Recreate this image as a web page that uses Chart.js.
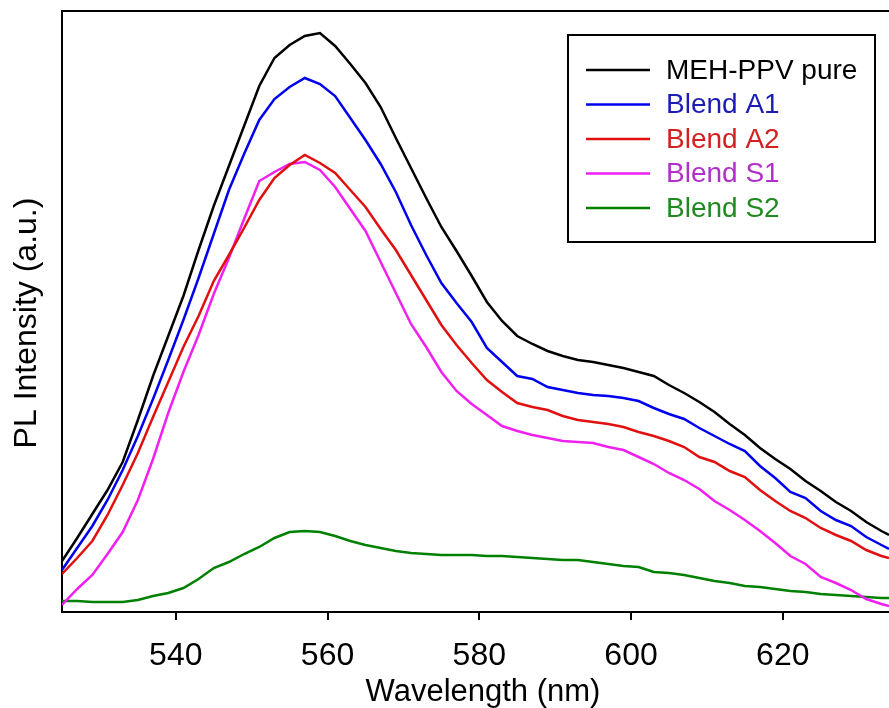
<!DOCTYPE html>
<html>
<head>
<meta charset="utf-8">
<script src="https://cdn.jsdelivr.net/npm/chart.js@4.4.1/dist/chart.umd.min.js"></script>
<style>
    body { margin: 0; background: #fff; }
    #wrap { width: 889px; height: 708px; }
</style>
</head>
<body>
<div id="wrap"><canvas id="plChart" width="889" height="708"></canvas></div>
<script>
    // PL spectra (arbitrary units)
    const wavelengths = [525, 527, 529, 531, 533, 535, 537, 539, 541, 543,
                         545, 547, 549, 551, 553, 555, 557, 559, 561, 563,
                         565, 567, 569, 571, 573, 575, 577, 579, 581, 583,
                         585, 587, 589, 591, 593, 595, 597, 599, 601, 603,
                         605, 607, 609, 611, 613, 615, 617, 619, 621, 623,
                         625, 627, 629, 631, 633, 634];
    const mehPpvPure = [51, 74, 98, 122, 150, 192, 236, 276, 316, 362,
                        406, 446, 486, 526, 554, 567, 576, 579, 566, 548,
                        529, 505, 474, 444, 414, 385, 361, 336, 310, 291,
                        276, 268, 261, 256, 252, 250, 247, 244, 240, 236,
                        227, 219, 210, 200, 188, 177, 164, 153, 143, 131,
                        121, 110, 101, 90, 81, 77];
    const blendA1 = [42, 64, 86, 112, 142, 176, 213, 252, 292, 334,
                     378, 422, 458, 492, 513, 525, 534, 528, 516, 494,
                     472, 448, 420, 387, 357, 329, 309, 290, 264, 250,
                     236, 233, 225, 222, 219, 217, 216, 214, 211, 204,
                     198, 193, 184, 176, 168, 161, 146, 134, 120, 114,
                     101, 92, 86, 75, 67, 63];
    const blendA2 = [38, 54, 71, 97, 127, 159, 195, 230, 265, 296,
                     331, 357, 384, 412, 434, 447, 457, 449, 439, 422,
                     405, 383, 362, 337, 312, 287, 267, 249, 232, 220,
                     209, 205, 202, 196, 192, 190, 188, 185, 180, 176,
                     171, 165, 155, 150, 141, 135, 122, 111, 101, 94,
                     84, 77, 71, 62, 56, 54];
    const blendS1 = [7, 23, 37, 58, 80, 112, 153, 199, 240, 277,
                     318, 354, 393, 431, 440, 448, 450, 442, 425, 403,
                     381, 350, 319, 288, 265, 240, 221, 208, 197, 186,
                     181, 177, 174, 171, 170, 169, 165, 162, 155, 148,
                     139, 132, 123, 111, 102, 92, 81, 69, 56, 48,
                     35, 29, 22, 13, 8, 6];
    const blendS2 = [11, 11, 10, 10, 10, 12, 16, 19, 24, 33,
                     44, 50, 58, 65, 74, 80, 81, 80, 76, 71,
                     67, 64, 61, 59, 58, 57, 57, 57, 56, 56,
                     55, 54, 53, 52, 52, 50, 48, 46, 45, 40,
                     39, 37, 34, 31, 29, 26, 25, 23, 21, 20,
                     18, 17, 16, 15, 14, 14];
    const xTickValues = [540, 560, 580, 600, 620];

    const seriesNames = ['MEH-PPV pure', 'Blend A1', 'Blend A2', 'Blend S1', 'Blend S2'];
    const seriesData = [mehPpvPure, blendA1, blendA2, blendS1, blendS2];
    const lineColors = ['#000000', '#0000ee', '#e01010', '#f020f0', '#008000'];
    const textColors = ['#000000', '#1c1cb4', '#d42020', '#b030c8', '#208a20'];

    const FONT = "'Liberation Sans', Arial, sans-serif";
    const xTitle = 'Wavelength (nm)';
    const yTitle = 'PL Intensity (a.u.)';

    // top frame line, axis titles and boxed legend
    const framePlugin = {
        id: 'frame',
        afterDraw(chart) {
            const { ctx, chartArea } = chart;
            ctx.save();
            ctx.strokeStyle = '#000';
            ctx.lineWidth = 2;
            ctx.beginPath();
            ctx.moveTo(chartArea.left - 1, chartArea.top);
            ctx.lineTo(chartArea.right, chartArea.top);
            ctx.stroke();

            // axis titles (placed a bit off the plot centre, like the original)
            ctx.fillStyle = '#000';
            ctx.font = '31px ' + FONT;
            ctx.textAlign = 'center';
            ctx.textBaseline = 'alphabetic';
            ctx.fillText(xTitle, 483, 701);
            ctx.save();
            ctx.font = '32px ' + FONT;
            ctx.translate(27, 323);
            ctx.rotate(-Math.PI / 2);
            ctx.textBaseline = 'middle';
            ctx.fillText(yTitle, 0, 0);
            ctx.restore();

            // legend box
            const bx = 568, by = 35, bw = 307, bh = 207;
            ctx.fillStyle = '#fff';
            ctx.fillRect(bx, by, bw, bh);
            ctx.strokeRect(bx, by, bw, bh);
            ctx.font = '28px ' + FONT;
            ctx.textAlign = 'left';
            ctx.textBaseline = 'middle';
            chart.data.datasets.forEach((ds, i) => {
                const y = 70 + i * 34.5;
                ctx.strokeStyle = ds.borderColor;
                ctx.lineWidth = 2.5;
                ctx.beginPath();
                ctx.moveTo(586, y);
                ctx.lineTo(650, y);
                ctx.stroke();
                ctx.fillStyle = textColors[i];
                ctx.fillText(ds.label, 666, y + 1);
            });
            ctx.restore();
        }
    };

    const datasets = seriesNames.map((name, i) => ({
        label: name,
        data: wavelengths.map((w, j) => ({ x: w, y: seriesData[i][j] })),
        borderColor: lineColors[i],
        backgroundColor: lineColors[i],
        borderWidth: 2.5,
        pointRadius: 0,
        tension: 0,
        fill: false
    }));

    const ctx = document.getElementById('plChart').getContext('2d');
    const plChart = new Chart(ctx, {
        type: 'line',
        data: { datasets: datasets },
        options: {
            responsive: false,
            animation: false,
            layout: { padding: { top: 11, right: 0, left: 0, bottom: 0 } },
            plugins: {
                legend: { display: false },
                tooltip: { enabled: false }
            },
            scales: {
                x: {
                    type: 'linear',
                    min: 525,
                    max: 634,
                    afterBuildTicks: scale => {
                        scale.ticks = xTickValues.map(v => ({ value: v }));
                    },
                    afterFit: scale => { scale.height = 96; },
                    grid: {
                        display: true,
                        drawOnChartArea: false,
                        drawTicks: true,
                        tickLength: 8,
                        color: '#000',
                        lineWidth: 2
                    },
                    border: { display: true, color: '#000', width: 2 },
                    ticks: {
                        color: '#000',
                        padding: 17,
                        font: { family: FONT, size: 32 },
                        maxRotation: 0
                    },
                    title: { display: false }
                },
                y: {
                    min: 0,
                    max: 601,
                    afterFit: scale => { scale.width = 62; },
                    grid: { display: false },
                    border: { display: true, color: '#000', width: 2 },
                    ticks: { display: false },
                    title: { display: false }
                }
            }
        },
        plugins: [framePlugin]
    });
</script>
</body>
</html>
